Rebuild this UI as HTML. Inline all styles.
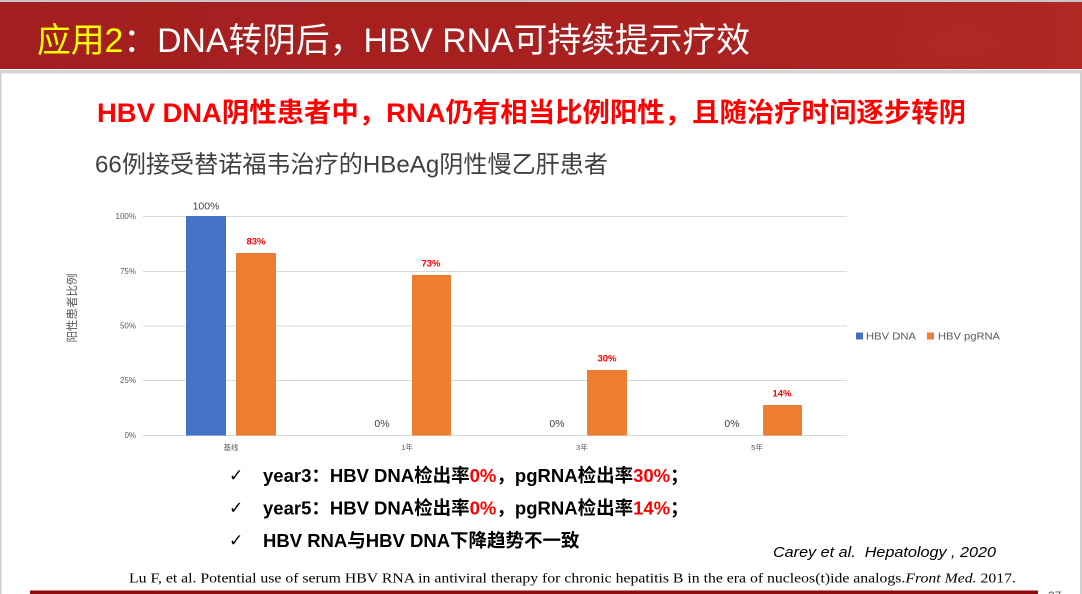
<!DOCTYPE html>
<html><head><meta charset="utf-8">
<style>
html,body{margin:0;padding:0;background:#fff;}
body{width:1082px;height:594px;overflow:hidden;position:relative;}
svg{position:absolute;left:0;top:0;}
</style></head>
<body>
<svg width="1082" height="594" viewBox="0 0 1082 594" xmlns="http://www.w3.org/2000/svg">
  <defs>
    <linearGradient id="hdr" x1="0" y1="0" x2="1" y2="0">
      <stop offset="0" stop-color="#a31f1f"/>
      <stop offset="0.6" stop-color="#a82120"/>
      <stop offset="1" stop-color="#b02724"/>
    </linearGradient>
    <radialGradient id="liver" cx="0.5" cy="0.5" r="0.5">
      <stop offset="0" stop-color="#bb3530" stop-opacity="0.35"/>
      <stop offset="1" stop-color="#b02724" stop-opacity="0"/>
    </radialGradient>
  </defs>
  <!-- frame -->
  <rect x="0" y="0" width="1082" height="594" fill="#fff"/>
  <rect x="0" y="0" width="1082" height="2" fill="#c8c8c8"/>
  <rect x="0" y="2" width="1082" height="67" fill="url(#hdr)"/>
  <ellipse cx="955" cy="42" rx="70" ry="30" fill="url(#liver)"/>
  <rect x="0" y="70" width="1082" height="3.5" fill="#d4d4d4"/>
  <rect x="0" y="73" width="1.5" height="521" fill="#cfcfcf"/>
  <rect x="1080" y="73" width="2" height="521" fill="#cfcfcf"/>

  <!-- title -->
  <text x="37" y="52" font-size="34" font-family="'Liberation Sans','Noto Sans CJK SC',sans-serif" textLength="713" lengthAdjust="spacingAndGlyphs"><tspan fill="#ffff00">应用2</tspan><tspan fill="#ffffff">：DNA转阴后，HBV RNA可持续提示疗效</tspan></text>

  <!-- red subtitle -->
  <text x="97" y="122" font-size="27" font-weight="bold" fill="#ff0000" font-family="'Liberation Sans','Noto Sans CJK SC',sans-serif" textLength="869" lengthAdjust="spacingAndGlyphs">HBV DNA阴性患者中，RNA仍有相当比例阳性，且随治疗时间逐步转阴</text>

  <!-- grey subtitle -->
  <text x="95" y="172.5" font-size="24" fill="#404040" font-family="'Liberation Sans','Noto Sans CJK SC',sans-serif" textLength="513" lengthAdjust="spacingAndGlyphs">66例接受替诺福韦治疗的HBeAg阴性慢乙肝患者</text>

  <!-- chart gridlines -->
  <g stroke="#d9d9d9" stroke-width="1">
    <line x1="143" y1="216.5" x2="847" y2="216.5"/>
    <line x1="143" y1="271.5" x2="847" y2="271.5"/>
    <line x1="143" y1="326" x2="847" y2="326"/>
    <line x1="143" y1="380.5" x2="847" y2="380.5"/>
    <line x1="143" y1="435.5" x2="847" y2="435.5"/>
  </g>
  <!-- y tick labels -->
  <g font-size="8" fill="#595959" text-anchor="end" font-family="'Liberation Sans',sans-serif">
    <text x="136" y="219">100%</text>
    <text x="136" y="274">75%</text>
    <text x="136" y="328.5">50%</text>
    <text x="136" y="383">25%</text>
    <text x="136" y="438">0%</text>
  </g>
  <!-- y axis title -->
  <text transform="translate(76,308) rotate(-90)" text-anchor="middle" font-size="11.5" fill="#595959" font-family="'Liberation Sans','Noto Sans CJK SC',sans-serif">阳性患者比例</text>

  <!-- bars -->
  <rect x="186" y="216" width="40" height="219.5" fill="#4472c4"/>
  <rect x="236" y="253" width="40" height="182.5" fill="#ed7d31"/>
  <rect x="412" y="275" width="39" height="160.5" fill="#ed7d31"/>
  <rect x="587" y="370" width="40" height="65.5" fill="#ed7d31"/>
  <rect x="763" y="405" width="39" height="30.5" fill="#ed7d31"/>

  <!-- data labels -->
  <g font-size="10.5" font-family="'Liberation Sans',sans-serif" text-anchor="middle">
    <text x="206" y="209.5" fill="#404040">100%</text>
    <text x="256" y="244.5" fill="#ff0000" font-weight="bold" font-size="9.5">83%</text>
    <text x="431" y="266.5" fill="#ff0000" font-weight="bold" font-size="9.5">73%</text>
    <text x="607" y="361.5" fill="#ff0000" font-weight="bold" font-size="9.5">30%</text>
    <text x="782" y="396.5" fill="#ff0000" font-weight="bold" font-size="9.5">14%</text>
    <text x="382" y="427" fill="#404040">0%</text>
    <text x="557" y="427" fill="#404040">0%</text>
    <text x="732" y="427" fill="#404040">0%</text>
  </g>
  <!-- category labels -->
  <g font-size="7.5" fill="#595959" text-anchor="middle" font-family="'Liberation Sans','Noto Sans CJK SC',sans-serif">
    <text x="231" y="450">基线</text>
    <text x="407" y="450">1年</text>
    <text x="582" y="450">3年</text>
    <text x="757" y="450">5年</text>
  </g>
  <!-- legend -->
  <rect x="856" y="332.5" width="7" height="7" fill="#4472c4"/>
  <text x="866" y="339.5" font-size="10.5" fill="#595959" font-family="'Liberation Sans',sans-serif" textLength="50" lengthAdjust="spacingAndGlyphs">HBV DNA</text>
  <rect x="927" y="332.5" width="7" height="7" fill="#ed7d31"/>
  <text x="938" y="339.5" font-size="10.5" fill="#595959" font-family="'Liberation Sans',sans-serif" textLength="62" lengthAdjust="spacingAndGlyphs">HBV pgRNA</text>

  <!-- bullets -->
  <g font-family="'DejaVu Sans',sans-serif" font-size="17" fill="#000">
    <text x="229" y="481">✓</text>
    <text x="229" y="513.5">✓</text>
    <text x="229" y="546">✓</text>
  </g>
  <g font-size="18.5" font-weight="bold" fill="#000" font-family="'Liberation Sans','Noto Sans CJK SC',sans-serif">
    <text x="263" y="482">year3：HBV DNA检出率<tspan fill="#ff0000">0%</tspan>，pgRNA检出率<tspan fill="#ff0000">30%</tspan>；</text>
    <text x="263" y="514.5">year5：HBV DNA检出率<tspan fill="#ff0000">0%</tspan>，pgRNA检出率<tspan fill="#ff0000">14%</tspan>；</text>
    <text x="263" y="547">HBV RNA与HBV DNA下降趋势不一致</text>
  </g>

  <!-- citations -->
  <text x="773" y="557" font-size="15" font-style="italic" fill="#000" font-family="'Liberation Sans',sans-serif" textLength="223" lengthAdjust="spacingAndGlyphs">Carey et al.&#160; Hepatology , 2020</text>
  <text x="129" y="582.5" font-size="13.5" fill="#000" font-family="'Liberation Serif',serif" textLength="887" lengthAdjust="spacingAndGlyphs">Lu F, et al. Potential use of serum HBV RNA in antiviral therapy for chronic hepatitis B in the era of nucleos(t)ide analogs.<tspan font-style="italic">Front Med.</tspan> 2017.</text>

  <!-- bottom bar -->
  <rect x="30" y="590.5" width="1008" height="4" fill="#8e0b0b"/>
  <text x="1048" y="600" font-size="12" fill="#555" font-family="'Liberation Sans',sans-serif">37</text>
</svg>
</body></html>
